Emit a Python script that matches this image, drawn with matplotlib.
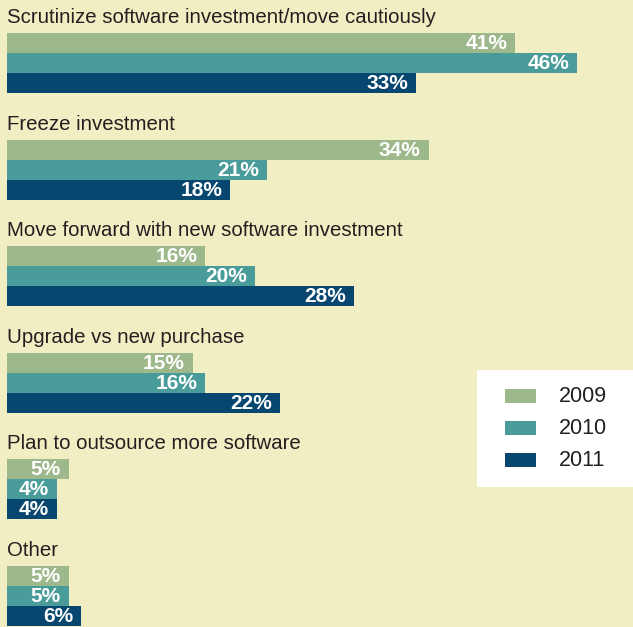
import matplotlib.pyplot as plt
from matplotlib.patches import Rectangle

plt.rcParams['font.family'] = ['Liberation Sans', 'DejaVu Sans']

categories = ['Scrutinize software investment/move cautiously',
              'Freeze investment',
              'Move forward with new software investment',
              'Upgrade vs new purchase',
              'Plan to outsource more software',
              'Other']
years = ['2009', '2010', '2011']
v2009 = [41, 34, 16, 15, 5, 5]
v2010 = [46, 21, 20, 16, 4, 5]
v2011 = [33, 18, 28, 22, 4, 6]

colors = ['#9DB88A', '#4A9C9A', '#07466F']
bg = '#F1EEC4'

W, H = 633, 627
px_per_pct = 12.4
x0 = 7

fig = plt.figure(figsize=(W / 100, H / 100), dpi=100, facecolor=bg)
ax = fig.add_axes([0, 0, 1, 1])
ax.set_facecolor(bg)
ax.set_xlim(-x0 / px_per_pct, (W - x0) / px_per_pct)
ax.set_ylim(H, 0)
ax.axis('off')

pitch = 106.6
bar_h = 20
series = [v2009, v2010, v2011]
for g, cat in enumerate(categories):
    top = 33 + g * pitch
    ax.text(0, top - 10, cat, fontsize=14.7, color='#231F20', va='baseline', ha='left')
    for i, vals in enumerate(series):
        yc = top + bar_h / 2 + i * bar_h
        ax.barh(yc, vals[g], height=bar_h, left=0, color=colors[i], linewidth=0)
        ax.text(vals[g] - 8 / px_per_pct, yc + 0.5, f'{vals[g]}%', fontsize=15,
                fontweight='bold', color='white', ha='right', va='center')

# legend box
lx, ly, lw, lh = 476.7, 370, W - 476.7, 116.7
lax = fig.add_axes([lx / W, 1 - (ly + lh) / H, lw / W, lh / H])
lax.set_facecolor('white')
lax.set_xlim(0, lw)
lax.set_ylim(lh, 0)
lax.set_xticks([])
lax.set_yticks([])
for s in lax.spines.values():
    s.set_visible(False)
for i, yr in enumerate(years):
    yc = 26 + i * 32.2
    lax.add_patch(Rectangle((28, yc - 7), 31, 14, color=colors[i], linewidth=0))
    lax.text(82, yc, yr, fontsize=15.5, color='#231F20', va='center', ha='left')

fig.savefig('out.png', dpi=100, facecolor=bg)
